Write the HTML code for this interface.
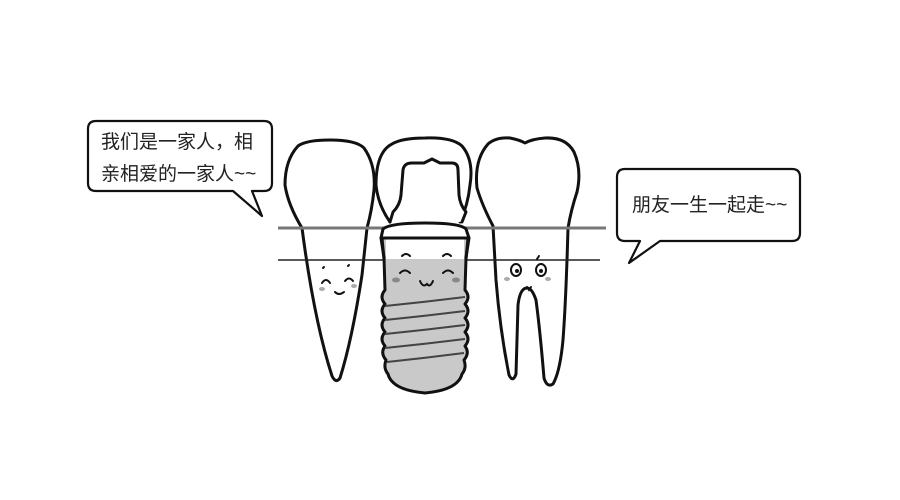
<!DOCTYPE html>
<html><head><meta charset="utf-8"><style>body{margin:0;background:#fff}svg{display:block}</style></head><body>
<svg width="900" height="500" viewBox="0 0 900 500" xmlns="http://www.w3.org/2000/svg">
<rect width="900" height="500" fill="#fff"/>
<g fill="none" stroke="#111" stroke-width="2.2" stroke-linejoin="round" stroke-linecap="round">
<path d="M96 121 H264 Q272 121 272 129 V183 Q272 191 264 191 H252 L262 216 L233 191 H96 Q88 191 88 183 V129 Q88 121 96 121 Z" fill="#fff"/>
<path d="M625 169 H792 Q800 169 800 177 V233 Q800 241 792 241 H660 L629 263 L640 241 H625 Q617 241 617 233 V177 Q617 169 625 169 Z" fill="#fff"/>
</g>
<g font-family="Liberation Sans, Noto Sans CJK SC, sans-serif" font-size="19" fill="#222">
<text x="101" y="148">我们是一家人，相</text>
<text x="101" y="180">亲相爱的一家人~~</text>
<text x="632" y="211">朋友一生一起走~~</text>
</g>
<g fill="none" stroke="#111" stroke-width="3" stroke-linejoin="round" stroke-linecap="round">
<path d="M302 228 Q288 205 285 185 Q285 160 298 146 Q306 140 330 140 Q356 140 364 148 Q376 165 374 190 Q372 210 367 228 L362 275 Q352 340 340 378 Q336 384 332 376 Q314 320 302 228 Z" fill="#fff"/>
<path d="M493 226 Q482 205 477 188 Q474 160 488 144 Q496 137 510 138 Q520 140 525 143 Q532 139 545 138 Q566 137 574 152 Q582 170 577 192 Q571 210 568 228 Q566 300 563 340 Q560 372 553 384 Q547 388 544 378 Q540 330 536 300 Q532 288 527 288 Q520 288 518 305 Q517 340 516 374 Q513 383 509 375 Q500 330 496 280 Z" fill="#fff"/>
</g>
<!-- gum lines over natural teeth -->
<line x1="278" y1="228" x2="606" y2="228" stroke="#777" stroke-width="3"/>
<line x1="278" y1="260" x2="600" y2="260" stroke="#222" stroke-width="1.5"/>
<g fill="none" stroke="#111" stroke-width="3" stroke-linejoin="round" stroke-linecap="round">
<path d="M390 222 Q378 205 376 185 Q376 152 392 144 Q402 138 425 138 Q452 137 462 146 Q474 160 470 185 Q468 205 460 222" fill="#fff"/>
<path d="M390 222 L393 212 Q400 205 401 195 L403 170 Q404 163 412 163 H424 L432 159 L440 163 H452 Q458 163 458 170 L459 195 Q460 205 466 212 L462 222" fill="#fff"/>
</g>
<!-- implant body -->
<path d="M381 238 L469 238 L466 258 L465 290 Q471 297 465 304 Q471 311 465 318 Q471 325 465 332 Q471 339 465 346 Q470 353 464 360 Q467 368 462 374 Q458 390 425 393 Q392 390 388 374 Q383 368 386 360 Q380 353 385 346 Q379 339 385 332 Q379 325 385 318 Q379 311 385 304 Q379 297 385 290 L384 258 Z" fill="#c9c9c9" stroke="#111" stroke-width="3" stroke-linejoin="round"/>
<rect x="386" y="239" width="78" height="20" fill="#fff"/>
<path d="M382 238 L384 259 M468 238 L466 259" stroke="#111" stroke-width="3"/>
<path d="M383 229 Q390 223 425 223 Q460 223 466 229 L469 238 L381 238 Z" fill="#fff" stroke="#111" stroke-width="3" stroke-linejoin="round"/>
<g stroke="#444" stroke-width="2" fill="none">
<path d="M385 306 Q425 302 465 297"/>
<path d="M385 320 Q425 316 465 311"/>
<path d="M385 334 Q425 330 465 325"/>
<path d="M385 348 Q425 344 465 339"/>
<path d="M387 362 Q425 358 464 353"/>
</g>
<g fill="none" stroke="#111" stroke-width="2" stroke-linecap="round">
<path d="M322 283 Q326 277 330 283"/><path d="M345 281 Q349 276 353 281"/>
<path d="M335 292 Q339 296 344 292"/>
<path d="M323 268 l1 -1 M348 266 l1 -1"/>
<path d="M400 273 Q405 268 410 273"/><path d="M443 273 Q448 268 453 273"/>
<path d="M420 281 Q423 288 427 284 Q430 288 433 281"/>
<path d="M402 256 Q406 252 410 256 M443 256 Q447 252 451 256"/>
<path d="M527 287 l2 3 l2 -3"/>
<path d="M537 259 l2 -3"/>
</g>
<g fill="#fff" stroke="#111" stroke-width="2">
<ellipse cx="516" cy="270" rx="5" ry="6"/><ellipse cx="541" cy="270" rx="5" ry="6"/>
</g>
<circle cx="517" cy="271" r="2" fill="#111"/><circle cx="541" cy="271" r="2" fill="#111"/>
<g fill="#aaa">
<ellipse cx="322" cy="289" rx="3" ry="2"/><ellipse cx="354" cy="286" rx="3" ry="2"/>
<ellipse cx="396" cy="280" rx="4" ry="2.5" fill="#888"/><ellipse cx="456" cy="280" rx="4" ry="2.5" fill="#888"/>
<ellipse cx="507" cy="279" rx="3" ry="2"/><ellipse cx="548" cy="279" rx="3" ry="2"/>
</g>
</svg>
</body></html>
